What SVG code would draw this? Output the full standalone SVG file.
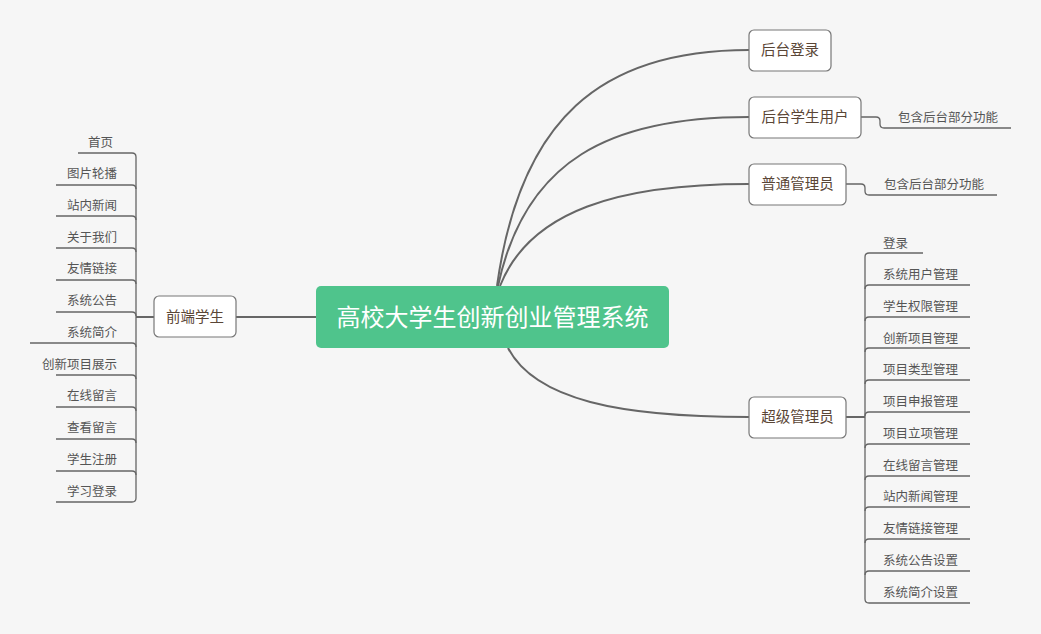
<svg xmlns="http://www.w3.org/2000/svg" width="1041" height="634" viewBox="0 0 1041 634">
<style>
.ln{fill:none;stroke:#666;stroke-width:1.3}
.cv{fill:none;stroke:#666;stroke-width:2}
.box{fill:#fff;stroke:#777;stroke-width:1.2}
.t{font-family:"Noto Sans CJK SC",sans-serif;font-size:12.5px;fill:#555}
.bt{font-family:"Noto Sans CJK SC",sans-serif;font-size:14.5px;fill:#5a4636;text-anchor:middle}
</style>
<rect width="1041" height="634" fill="#f6f6f6"/>
<g id="connectors">
<path class="cv" d="M497,286 C520,120 600,50 749,50"/>
<path class="cv" d="M498,286 C525,160 610,117 749,117"/>
<path class="cv" d="M500,286 C530,210 620,184 749,184"/>
<path class="cv" d="M508,348 C535,400 620,417 749,417"/>
<path class="cv" d="M236,317 H316"/>
<path class="ln" d="M861,117 H876 Q880,117 880,121 V124 Q880,128 884,128 H1011"/>
<path class="ln" d="M846,184 H861 Q865,184 865,188 V191 Q865,195 869,195 H997"/>
<path class="cv" d="M154,317 H136"/>
<path class="ln" d="M78,153 H132 Q136,153 136,157 V498 Q136,502 132,502 H56"/>
<path class="ln" d="M56,185 H132 Q136,185 136,189 M56,216 H132 Q136,216 136,220 M56,248 H132 Q136,248 136,252 M56,280 H132 Q136,280 136,284 M56,312 H132 Q136,312 136,316 M30,343 H132 Q136,343 136,347 M56,375 H132 Q136,375 136,379 M56,407 H132 Q136,407 136,411 M56,439 H132 Q136,439 136,443 M56,471 H132 Q136,471 136,475"/>
<path class="cv" d="M846,417 H865"/>
<path class="ln" d="M923,253 H869 Q865,253 865,257 V599 Q865,603 869,603 H970"/>
<path class="ln" d="M865,289 Q865,285 869,285 H970 M865,321 Q865,317 869,317 H970 M865,352 Q865,348 869,348 H970 M865,384 Q865,380 869,380 H970 M865,416 Q865,412 869,412 H970 M865,448 Q865,444 869,444 H970 M865,480 Q865,476 869,476 H970 M865,511 Q865,507 869,507 H970 M865,543 Q865,539 869,539 H970 M865,575 Q865,571 869,571 H970"/>
</g>
<g id="center"><rect x="316" y="286" width="353" height="62" rx="5" fill="#4fc48c"/><text x="492.5" y="326" font-family="Noto Sans CJK SC,sans-serif" font-size="24" fill="#fff" text-anchor="middle">高校大学生创新创业管理系统</text></g>
<g id="n1"><rect class="box" x="749" y="30" width="82" height="41" rx="5"/><text class="bt" x="790" y="55">后台登录</text></g>
<g id="n2"><rect class="box" x="749" y="97" width="112" height="41" rx="5"/><text class="bt" x="805" y="122">后台学生用户</text></g>
<g id="n3"><rect class="box" x="749" y="164" width="97" height="41" rx="5"/><text class="bt" x="797.5" y="189">普通管理员</text></g>
<g id="n4"><rect class="box" x="749" y="397" width="97" height="41" rx="5"/><text class="bt" x="797.5" y="422">超级管理员</text></g>
<g id="n5"><rect class="box" x="154" y="296" width="82" height="41" rx="5"/><text class="bt" x="195" y="322">前端学生</text></g>
<g id="notes">
<text class="t" x="898" y="122">包含后台部分功能</text>
<text class="t" x="884" y="189">包含后台部分功能</text>
</g>
<g id="left" class="t" text-anchor="end">
<text x="113" y="147">首页</text>
<text x="117" y="178">图片轮播</text>
<text x="117" y="210">站内新闻</text>
<text x="117" y="242">关于我们</text>
<text x="117" y="273">友情链接</text>
<text x="117" y="305">系统公告</text>
<text x="117" y="337">系统简介</text>
<text x="117" y="369">创新项目展示</text>
<text x="117" y="400">在线留言</text>
<text x="117" y="432">查看留言</text>
<text x="117" y="464">学生注册</text>
<text x="117" y="496">学习登录</text>
</g>
<g id="right" class="t">
<text x="883" y="248">登录</text>
<text x="883" y="279">系统用户管理</text>
<text x="883" y="311">学生权限管理</text>
<text x="883" y="343">创新项目管理</text>
<text x="883" y="374">项目类型管理</text>
<text x="883" y="406">项目申报管理</text>
<text x="883" y="438">项目立项管理</text>
<text x="883" y="470">在线留言管理</text>
<text x="883" y="501">站内新闻管理</text>
<text x="883" y="533">友情链接管理</text>
<text x="883" y="565">系统公告设置</text>
<text x="883" y="597">系统简介设置</text>
</g>
</svg>
